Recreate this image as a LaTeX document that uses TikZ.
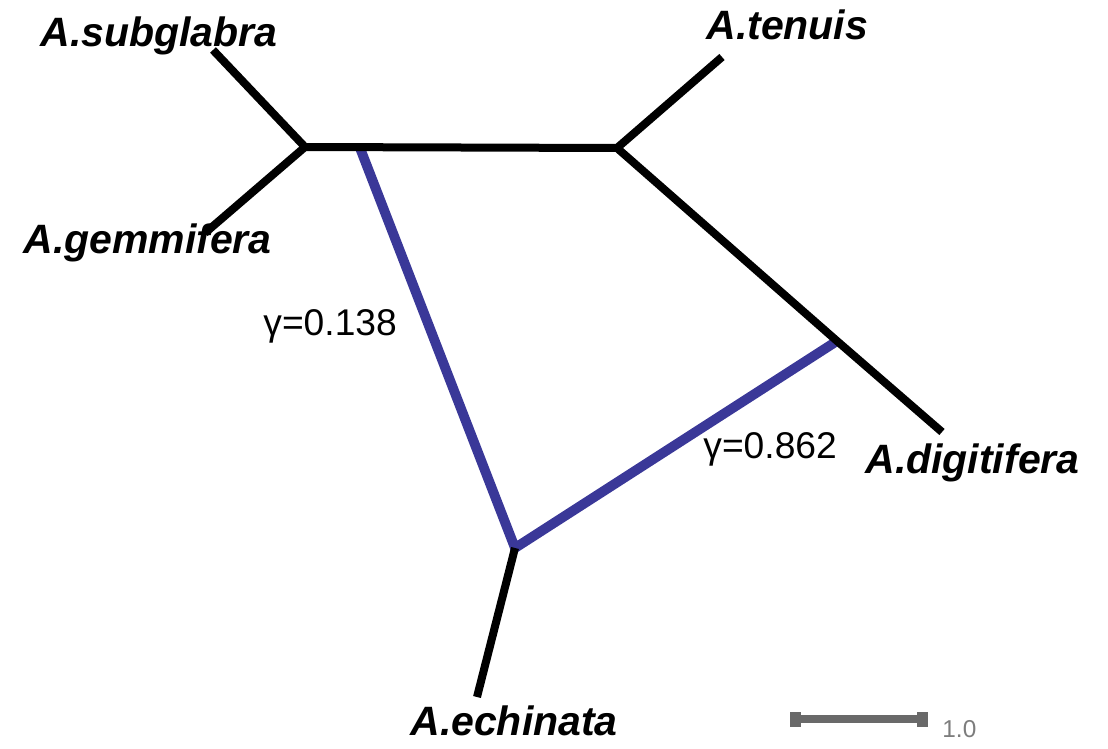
\documentclass[tikz,border=0pt]{standalone}
\usepackage{fontspec}
\setmainfont{Liberation Sans}
\usetikzlibrary{positioning}
\definecolor{hybblue}{RGB}{58,56,152}
\definecolor{scalegray}{RGB}{105,105,105}
\definecolor{scaletext}{RGB}{125,125,125}
\tikzset{
  branch/.style={line width=4pt, black},
  hybrid/.style={line width=4.9pt, hybblue},
  taxon/.style={anchor=base west, inner sep=0pt, font=\fontsize{20.5}{24}\selectfont\bfseries\itshape},
  gammalabel/.style={anchor=base west, inner sep=0pt, font=\fontsize{18.6}{22}\selectfont},
}

\begin{document}
\begin{tikzpicture}[x=0.5pt, y=-0.5pt]
  \useasboundingbox (0,0) rectangle (1108,749);
  % internal nodes
  \coordinate (left) at (305,147);
  \coordinate (right) at (617,148);
  \coordinate (hstart) at (360,148);
  \coordinate (hend) at (837,341);
  \coordinate (hyb) at (515,548);
  % tips
  \coordinate (tsub) at (213,50);
  \coordinate (tgem) at (205,233);
  \coordinate (tten) at (722,57);
  \coordinate (tdig) at (942,432);
  \coordinate (tech) at (477,697);

  % reticulation
  \draw[hybrid] (hstart) -- (hyb) -- (hend);
  % tree branches
  \draw[branch] (tsub) -- (left) -- (tgem);
  \draw[branch] (left) -- (right) -- (tten);
  \draw[branch] (right) -- (hend) -- (tdig);
  \draw[branch] (hyb) -- (tech);

  % taxa
  \node[taxon] (subglabra) at (40,47) {A.subglabra};
  \node[taxon] (gemmifera) at (23,253) {A.gemmifera};
  \node[taxon] (tenuis) at (706,40) {A.tenuis};
  \node[taxon] (digitifera) at (865,473) {A.digitifera};
  \node[taxon] (echinata) at (410,735) {A.echinata};

  % inheritance
  \node[gammalabel] (gleft) at (263,335) {γ=0.138};
  \node[gammalabel] (gright) at (703,458) {γ=0.862};

  % scale bar
  \coordinate (sbl) at (796,719);
  \coordinate (sbr) at (922,719);
  \draw[scalegray, line width=4pt] (sbl) -- (sbr);
  \fill[scalegray] (790,712) rectangle (801,727);
  \fill[scalegray] (917,712) rectangle (928,727);
  \node[anchor=base west, inner sep=0pt, text=scaletext, font=\fontsize{12.2}{14}\selectfont] (scalelab) at (942,737) {1.0};
\end{tikzpicture}
\end{document}
